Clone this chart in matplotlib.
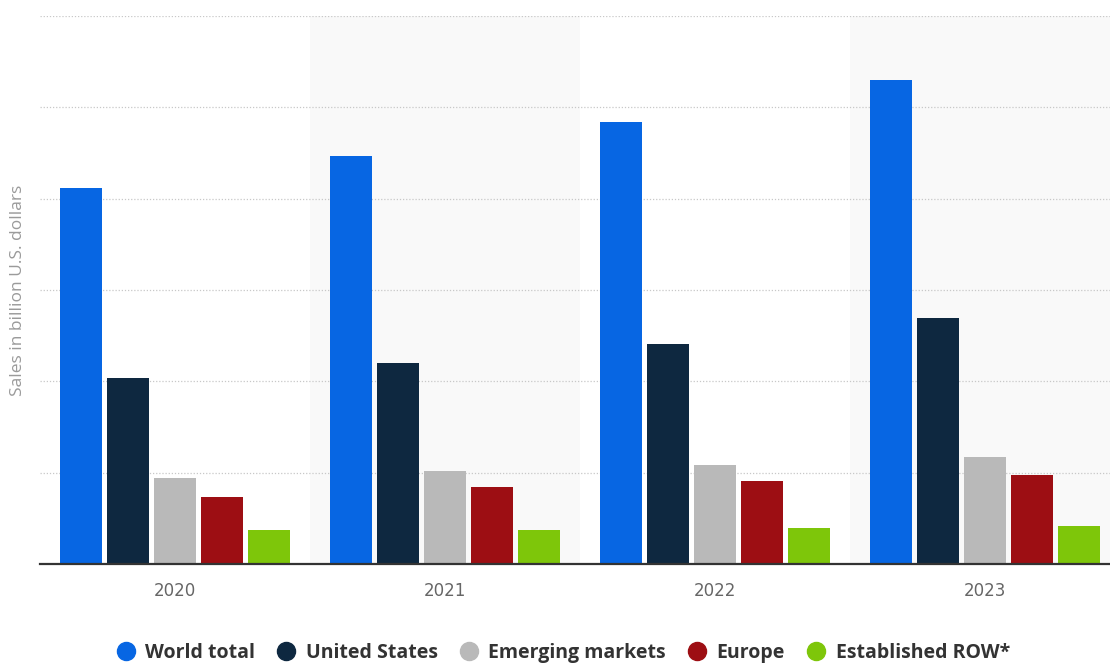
import matplotlib
matplotlib.use("Agg")
import matplotlib.pyplot as plt
from matplotlib.lines import Line2D
import numpy as np

# sales in billion U.S. dollars
years = ["2020", "2021", "2022", "2023"]
series = ["World total", "United States", "Emerging markets", "Europe", "Established ROW*"]
world_total = [1236, 1341, 1452, 1590]
united_states = [611, 660, 723, 808]
emerging_markets = [283, 306, 325, 352]
europe = [220, 253, 273, 292]
established_row = [112, 112, 118, 125]

colors = ["#0766e3", "#0e2840", "#b9b9b9", "#9d0e13", "#7ec60a"]
values = [world_total, united_states, emerging_markets, europe, established_row]

W, H = 1110, 664
fig = plt.figure(figsize=(W / 100, H / 100), dpi=100)
# plot area is slightly wider than the picture on the right
left, right, bottom, top = 40, 1120, 564, 16
ax = fig.add_axes([left / W, (H - bottom) / H, (right - left) / W, (bottom - top) / H])

x = np.arange(len(years))
pitch = 47 / 270
width = 42 / 270

# alternate light bands behind every second year
for i in range(len(years)):
    if i % 2 == 1:
        ax.axvspan(i - 0.5, i + 0.5, color="#f9f9f9", zorder=0, lw=0)

for k, (vals, c) in enumerate(zip(values, colors)):
    offs = (k - 2) * pitch
    ax.bar(x + offs, vals, width=width, color=c, zorder=3, label=series[k])

ax.set_xlim(-0.5, len(years) - 0.5)
ax.set_ylim(0, 1800)
ax.set_yticks(np.arange(0, 1801, 300))
ax.yaxis.grid(True, color="#c8c8c8", linestyle=(0, (1, 1.5)), linewidth=0.9, zorder=1)
ax.set_axisbelow(True)
ax.tick_params(axis="y", length=0, labelleft=False)
ax.tick_params(axis="x", length=0, pad=13, labelsize=12, labelcolor="#666666")
ax.set_xticks(x)
ax.set_xticklabels(years)

for s in ["top", "right", "left"]:
    ax.spines[s].set_visible(False)
ax.spines["bottom"].set_color("#333333")
ax.spines["bottom"].set_linewidth(1.6)
ax.spines["bottom"].set_zorder(4)

fig.text(18 / W, 1 - 290 / H, "Sales in billion U.S. dollars", rotation=90,
         ha="center", va="center", fontsize=12.5, color="#9a9a9a", family="Open Sans")

handles = [Line2D([], [], marker="o", linestyle="", markersize=13,
                  markerfacecolor=c, markeredgecolor=c) for c in colors]
leg = fig.legend(handles, series, loc="center", ncol=5, frameon=False,
                 bbox_to_anchor=(563 / W, 1 - 653 / H), handletextpad=0.5,
                 columnspacing=1.1, handlelength=1.0,
                 prop={"family": "Open Sans", "weight": "bold", "size": 14})
for t in leg.get_texts():
    t.set_color("#333333")

fig.savefig("out.png", dpi=100)
